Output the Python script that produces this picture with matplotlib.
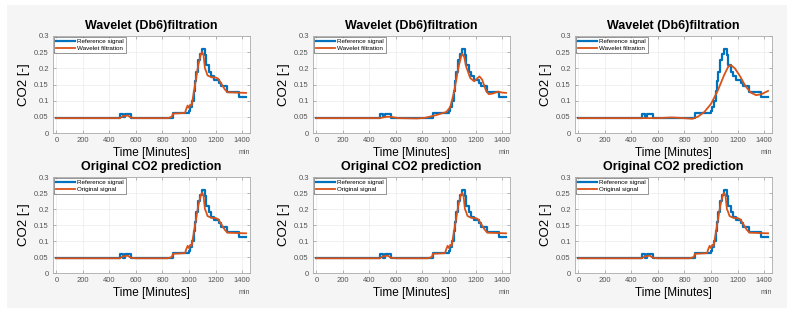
import matplotlib
matplotlib.use("Agg")
import matplotlib.pyplot as plt
from matplotlib.patches import Rectangle
import numpy as np

plt.rcParams["font.family"] = ["Liberation Sans", "DejaVu Sans"]

# reference signal (step changes: start time, level)
ref_t = [0, 480, 502, 520, 565, 880, 1000, 1010, 1025, 1035, 1045, 1055, 1065, 1085,
         1095, 1120, 1128, 1150, 1165, 1190, 1225, 1245, 1290, 1380, 1430]
ref_v = [0.046, 0.060, 0.048, 0.060, 0.046, 0.062, 0.068, 0.080, 0.100, 0.130, 0.160,
         0.190, 0.225, 0.245, 0.260, 0.240, 0.210, 0.190, 0.175, 0.165, 0.155, 0.145,
         0.128, 0.112, 0.112]

# wavelet filtration, level 1 (close follow)
w1_t = [0, 480, 500, 540, 560, 600, 840, 870, 880, 970, 980, 990, 1000, 1010, 1020, 1030,
        1050, 1070, 1090, 1100, 1110, 1120, 1130, 1140, 1170, 1200, 1220, 1240, 1270,
        1290, 1430]
w1_v = [0.046, 0.046, 0.052, 0.054, 0.048, 0.046, 0.046, 0.050, 0.060, 0.062, 0.075,
        0.085, 0.078, 0.088, 0.085, 0.110, 0.160, 0.210, 0.245, 0.250, 0.240, 0.200,
        0.190, 0.178, 0.172, 0.172, 0.168, 0.155, 0.135, 0.126, 0.124]

# wavelet filtration, level 2
w2_t = [0, 480, 520, 560, 620, 760, 820, 900, 980, 1010, 1040, 1070, 1090, 1100, 1115,
        1130, 1160, 1190, 1210, 1230, 1250, 1280, 1300, 1330, 1370, 1400, 1430]
w2_v = [0.046, 0.046, 0.050, 0.050, 0.046, 0.045, 0.047, 0.055, 0.065, 0.080, 0.130,
        0.200, 0.235, 0.245, 0.235, 0.205, 0.170, 0.160, 0.168, 0.175, 0.165, 0.130,
        0.120, 0.122, 0.128, 0.125, 0.124]

# wavelet filtration, level 3 (smooth)
w3_t = [0, 400, 600, 700, 760, 860, 900, 950, 1000, 1050, 1100, 1130, 1150, 1180, 1220,
        1260, 1300, 1340, 1380, 1430]
w3_v = [0.046, 0.046, 0.046, 0.048, 0.047, 0.044, 0.050, 0.065, 0.090, 0.130, 0.180,
        0.205, 0.210, 0.200, 0.175, 0.145, 0.125, 0.117, 0.120, 0.130]

# original CO2 prediction
orig_t = w1_t
orig_v = w1_v

top_titles = ["Wavelet (Db6)filtration"] * 3
bottom_titles = ["Original CO2 prediction"] * 3
top_series = [(w1_t, w1_v), (w2_t, w2_v), (w3_t, w3_v)]

BLUE = "#0072BD"
ORANGE = "#D95319"

fig = plt.figure(figsize=(7.94, 3.16), dpi=100, facecolor="white")
fig.patches.append(Rectangle((7 / 794, 1 - 308 / 316), 780 / 794, 303 / 316,
                             transform=fig.transFigure, facecolor="#f5f5f5",
                             edgecolor="none", zorder=-1))

lefts = [53 / 794, 313 / 794, 575 / 794]
width = 197 / 794
rows = [(1 - 133 / 316, 97 / 316), (1 - 273 / 316, 96 / 316)]


def draw(ax, title, other_t, other_v, label):
    ax.plot(ref_t, ref_v, drawstyle="steps-post", color=BLUE, lw=1.6, label="Reference signal")
    ax.plot(other_t, other_v, color=ORANGE, lw=1.3, label=label)
    ax.set_xlim(-25, 1460)
    ax.set_ylim(0, 0.3)
    ax.set_xticks(np.arange(0, 1401, 200))
    ax.set_yticks([0, 0.05, 0.1, 0.15, 0.2, 0.25, 0.3])
    ax.set_yticklabels(["0", "0.05", "0.1", "0.15", "0.2", "0.25", "0.3"])
    ax.tick_params(direction="in", length=2, width=0.5, labelsize=5.5,
                   labelcolor="#555555", color="#999999", pad=3, top=True, right=True)
    ax.grid(True, color="#ececec", lw=0.5)
    for s in ax.spines.values():
        s.set_color("#aaaaaa")
        s.set_linewidth(0.6)
    ax.set_title(title, fontsize=9, fontweight="bold", pad=5)
    ax.set_xlabel("Time [Minutes]", fontsize=8.5, labelpad=2)
    ax.set_ylabel("CO2 [-]", fontsize=9.5, labelpad=3)
    ax.text(1.0, -0.2, "min", transform=ax.transAxes, fontsize=5, color="#555555",
            ha="right", va="center")
    leg = ax.legend(loc="upper left", fontsize=4.5, frameon=True, fancybox=False,
                    borderpad=0.3, labelspacing=0.2, handlelength=3.0,
                    borderaxespad=0.15, handletextpad=0.4)
    leg.get_frame().set_edgecolor("#444444")
    leg.get_frame().set_linewidth(0.5)


for i in range(3):
    ax = fig.add_axes([lefts[i], rows[0][0], width, rows[0][1]])
    draw(ax, top_titles[i], top_series[i][0], top_series[i][1], "Wavelet filtration")
    ax = fig.add_axes([lefts[i], rows[1][0], width, rows[1][1]])
    draw(ax, bottom_titles[i], orig_t, orig_v, "Original signal")

fig.savefig("out.png", dpi=100, facecolor=fig.get_facecolor())
